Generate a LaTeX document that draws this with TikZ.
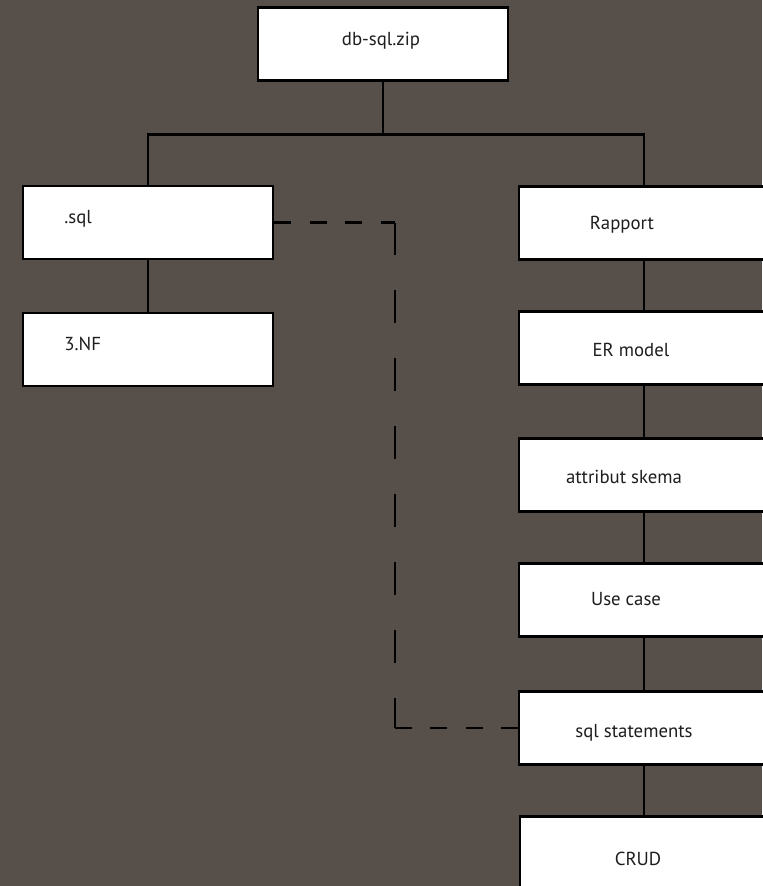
\documentclass[tikz,border=0pt]{standalone}
\usepackage{fontspec}
\setmainfont{PT Sans}
\usepackage{xcolor}
\usepackage{tikz}
\usetikzlibrary{positioning, calc}

\definecolor{bgbrown}{RGB}{87,80,74}
\definecolor{txtdark}{RGB}{30,30,30}

\begin{document}
\begin{tikzpicture}[
  x=0.02cm, y=-0.02cm,
  font=\fontsize{10.7}{12.8}\selectfont,
  filebox/.style={
    draw=black, fill=white, line width=1.4pt,
    minimum width=5cm, minimum height=1.46cm, inner sep=0pt
  },
  boxtext/.style={text=txtdark, inner sep=0pt},
  link/.style={draw=black, line width=1.5pt},
  hdash/.style={draw=black, line width=1.5pt, dash pattern=on 0.34cm off 0.37cm},
  vdash/.style={draw=black, line width=1.5pt, dash pattern=on 0.66cm off 0.70cm}
]

% ── Canvas ──────────────────────────────────────────────────
\fill[bgbrown] (0,0) rectangle (762,886);
\useasboundingbox (0,0) rectangle (762,886);

% ── Archive root ────────────────────────────────────────────
\node[filebox] (zip) at (383,44) {};
\node[boxtext, anchor=base] (ziptxt) at (381,45) {db-sql.zip};

% ── Left branch ─────────────────────────────────────────────
\node[filebox] (sql) at (148,222.5) {};
\node[boxtext, anchor=base west] (sqltxt) at (64,223) {.sql};
\node[filebox] (nf) at (148,349.5) {};
\node[boxtext, anchor=base west] (nftxt) at (64,350) {3.NF};

% ── Right branch ────────────────────────────────────────────
\node[filebox] (rap) at (644,223) {};
\node[boxtext, anchor=base] (raptxt) at (622,229) {Rapport};
\node[filebox] (er) at (644,348) {};
\node[boxtext, anchor=base] (ertxt) at (631,356) {ER model};
\node[filebox] (att) at (644,475) {};
\node[boxtext, anchor=base] (atttxt) at (624,483) {attribut skema};
\node[filebox] (use) at (644,600) {};
\node[boxtext, anchor=base] (usetxt) at (626,605) {Use case};
\node[filebox] (stmt) at (644,728) {};
\node[boxtext, anchor=base] (stmttxt) at (634,737) {sql statements};
\node[filebox] (crud) at (645,853) {};
\node[boxtext, anchor=base] (crudtxt) at (638,865) {CRUD};

% ── Tree connectors ─────────────────────────────────────────
\coordinate (fork) at ($(zip.south)+(0,53)$);
\draw[link] (zip.south) -- (fork);
\draw[link] (fork) -| (sql.north);
\draw[link] (fork) -| (rap.north);
\draw[link] (sql) -- (nf);
\draw[link] (rap) -- (er);
\draw[link] (er) -- (att);
\draw[link] (att) -- (use);
\draw[link] (use) -- (stmt);
\draw[link] (stmt.south) -- (stmt.south |- crud.north);

% ── Dashed link .sql -> sql statements ──────────────────────
\coordinate (dtop) at (395,0 |- sql.east);
\coordinate (dbot) at (395,0 |- stmt.west);
\draw[hdash] (sql.east) -- (dtop);
\draw[vdash] (dtop) -- (dbot);
\draw[hdash] (dbot) -- (stmt.west);

\end{tikzpicture}
\end{document}
